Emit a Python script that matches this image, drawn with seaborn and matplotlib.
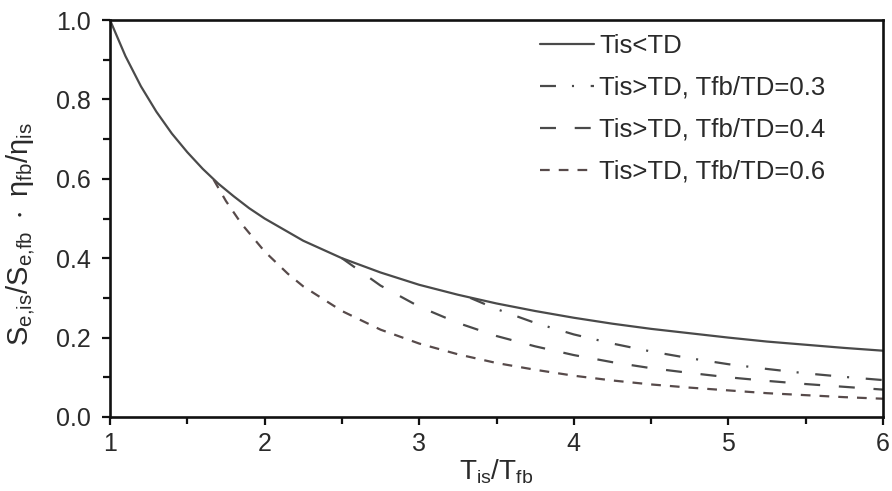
import matplotlib
matplotlib.use("Agg")
import matplotlib.pyplot as plt
import seaborn as sns
import pandas as pd

# ---- data ----
x_solid = [1.0, 1.1, 1.2, 1.3, 1.4, 1.5, 1.6, 1.7, 1.8, 1.9, 2.0, 2.25, 2.5, 2.75, 3.0,
           3.25, 3.5, 3.75, 4.0, 4.25, 4.5, 4.75, 5.0, 5.25, 5.5, 5.75, 6.0]
y_solid = [1.0, 0.909, 0.833, 0.769, 0.714, 0.667, 0.625, 0.588, 0.556, 0.526, 0.5, 0.444,
           0.4, 0.364, 0.333, 0.308, 0.286, 0.267, 0.25, 0.235, 0.222, 0.211, 0.2, 0.19,
           0.182, 0.174, 0.167]

x_03 = [3.33, 3.5, 3.75, 4.0, 4.25, 4.5, 4.75, 5.0, 5.25, 5.5, 5.75, 6.0]
y_03 = [0.300, 0.272, 0.237, 0.208, 0.185, 0.165, 0.148, 0.133, 0.121, 0.110, 0.101, 0.093]

x_04 = [2.5, 2.75, 3.0, 3.25, 3.5, 3.75, 4.0, 4.25, 4.5, 4.75, 5.0, 5.25, 5.5, 5.75, 6.0]
y_04 = [0.400, 0.331, 0.278, 0.237, 0.204, 0.178, 0.156, 0.138, 0.123, 0.111, 0.100,
        0.091, 0.083, 0.076, 0.069]

x_06 = [1.67, 1.75, 1.85, 2.0, 2.15, 2.25, 2.5, 2.75, 3.0, 3.25, 3.5, 3.75, 4.0, 4.25, 4.5,
        4.75, 5.0, 5.25, 5.5, 5.75, 6.0]
y_06 = [0.598, 0.544, 0.487, 0.417, 0.361, 0.329, 0.267, 0.220, 0.185, 0.158, 0.136, 0.119,
        0.104, 0.092, 0.082, 0.074, 0.067, 0.060, 0.055, 0.050, 0.046]

labels = ["Tis<TD", "Tis>TD, Tfb/TD=0.3", "Tis>TD, Tfb/TD=0.4", "Tis>TD, Tfb/TD=0.6"]
x_ticks = [1, 2, 3, 4, 5, 6]
y_ticks = [0.0, 0.2, 0.4, 0.6, 0.8, 1.0]
y_ticklabels = ["0.0", "0.2", "0.4", "0.6", "0.8", "1.0"]

# ---- style ----
sns.set_theme(style="ticks")
plt.rcParams["font.family"] = ["Liberation Sans", "DejaVu Sans"]
plt.rcParams["mathtext.fontset"] = "custom"
plt.rcParams["mathtext.rm"] = "Liberation Sans"
plt.rcParams["mathtext.it"] = "Liberation Sans"
plt.rcParams["mathtext.bf"] = "Liberation Sans:bold"
plt.rcParams["lines.scale_dashes"] = False

fig = plt.figure(figsize=(8.92, 4.91), dpi=100)
ax = fig.add_axes([110 / 892, 1 - 417 / 491, (883 - 110) / 892, (417 - 20) / 491])

line_col = "#4a4a4a"
series = [
    (x_solid, y_solid, labels[0], "-", line_col),
    (x_03, y_03, labels[1], (0, (11.5, 11.5, 1.5, 12)), line_col),
    (x_04, y_04, labels[2], (0, (11.5, 13.5)), line_col),
    (x_06, y_06, labels[3], (0, (7, 6.5)), "#574a4a"),
]
for xs, ys, lab, ls, col in series:
    df = pd.DataFrame({"x": xs, "y": ys})
    sns.lineplot(data=df, x="x", y="y", ax=ax, color=col, linestyle=ls,
                 linewidth=1.6, label=lab, sort=False, estimator=None)

ax.set_xlim(1, 6)
ax.set_ylim(0, 1.0)
ax.set_xticks(x_ticks)
ax.set_xticklabels([str(t) for t in x_ticks])
ax.set_yticks(y_ticks)
ax.set_yticklabels(y_ticklabels)
ax.set_xticks([1.5, 2.5, 3.5, 4.5, 5.5], minor=True)
ax.set_yticks([0.1, 0.3, 0.5, 0.7, 0.9], minor=True)

for sp in ax.spines.values():
    sp.set_visible(True)
    sp.set_linewidth(1.9)
    sp.set_color("#111111")

ax.tick_params(axis="both", which="major", direction="out", length=6, width=1.6,
               color="#111111", labelsize=18, labelcolor="#2a2a2a")
ax.tick_params(axis="both", which="minor", direction="out", length=5, width=1.6,
               color="#111111")
ax.tick_params(axis="x", which="major", pad=5)
ax.tick_params(axis="y", which="major", pad=8)

ax.set_xlabel(r"$\mathregular{T_{is}/T_{fb}}$", fontsize=20, color="#2a2a2a", labelpad=1)
ax.set_ylabel(r"$\mathregular{S_{e{,}is}/S_{e{,}fb}\ \cdot\ \eta_{fb}/\eta_{is}}$", fontsize=21,
              color="#2a2a2a", labelpad=8)
ax.yaxis.set_label_coords(-0.095, 0.46)

leg = ax.legend(loc="upper left", bbox_to_anchor=(540 / 892, 1 - 34 / 491),
                bbox_transform=fig.transFigure, frameon=False, fontsize=18.5,
                handlelength=2.1, handletextpad=0.2, labelspacing=0.7,
                borderpad=0, borderaxespad=0)
for t in leg.get_texts():
    t.set_color("#2a2a2a")

fig.savefig("out.png", dpi=100)
